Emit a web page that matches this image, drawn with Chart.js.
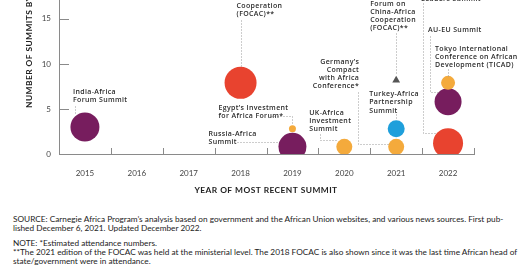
<!DOCTYPE html>
<html>
<head>
<meta charset="utf-8">
<script src="https://cdn.jsdelivr.net/npm/chart.js@4.4.0/dist/chart.umd.min.js"></script>
<style>
    html, body { margin: 0; padding: 0; background: #fff; width: 520px; height: 272px; overflow: hidden; }
    #wrap { position: relative; width: 520px; height: 200px; }
    .notes { position: absolute; left: 13px; top: 215px; font-family: Lato, sans-serif; font-size: 8.25px; line-height: 9px; color: #222; white-space: nowrap; }
    .notes p { margin: 0 0 6px 0; }
</style>
</head>
<body>
<div id="wrap"><canvas id="summitChart" width="520" height="200"></canvas></div>
<div class="notes">
    <p>SOURCE: Carnegie Africa Program’s analysis based on government and the African Union websites, and various news sources. First pub-<br>lished December 6, 2021. Updated December 2022.</p>
    <p>NOTE: *Estimated attendance numbers.<br>**The 2021 edition of the FOCAC was held at the ministerial level. The 2018 FOCAC is also shown since it was the last time African head of<br>state/government were in attendance.</p>
</div>
<script>
// Categories (x axis)
const years = ['2015', '2016', '2017', '2018', '2019', '2020', '2021', '2022'];

// Summits (bubbles)
const summitNames = [
    'India-Africa Forum Summit',
    'Forum on China-Africa Cooperation (FOCAC)**',
    "Egypt's Investment for Africa Forum*",
    'Russia-Africa Summit',
    'UK-Africa Investment Summit',
    "Germany's Compact with Africa Conference*",
    'Turkey-Africa Partnership Summit',
    'U.S.-Africa Leaders Summit',
    'AU-EU Summit',
    'Tokyo International Conference on African Development (TICAD)'
];
const summitYears = ['2015', '2018', '2019', '2019', '2020', '2021', '2021', '2022', '2022', '2022'];
const summitCounts = [3, 7.9, 2.8, 0.8, 0.8, 0.8, 2.8, 1.2, 5.8, 7.9];
const bubbleSize = [14.5, 16, 3.5, 14, 8, 8, 8.5, 15, 13.5, 7];

// 2021 FOCAC (ministerial level) shown as a triangle
const ministerialYears = ['2021'];
const ministerialCounts = [8.2];

// Y ticks
const yTicks = [0, 5, 10, 15];

const PURPLE = '#771d5e', RED = '#e8432f', ORANGE = '#f4aa3c', BLUE = '#1f9fdb';
const summitColors = [PURPLE, RED, ORANGE, PURPLE, ORANGE, ORANGE, BLUE, RED, PURPLE, ORANGE];
const axisColor = '#8a8a8a';

// Label text + placement relative to each bubble (dx, dy = first line centre; leader = dotted path)
const labelLayout = [
    { lines: ['India-Africa', 'Forum Summit'], dx: -12, dy: -35, leader: [[-10, -21], [-10, -14]] },
    { lines: ['Forum on', 'China-Africa', 'Cooperation', '(FOCAC)**'], dx: -4, dy: -93, leader: [[0, -63], [0, -16]] },
    { lines: ["Egypt’s Investment", 'for Africa Forum*'], dx: -74, dy: -21, leader: [[-21, -13], [0, -13], [0, -4]] },
    { lines: ['Russia-Africa', 'Summit'], dx: -84, dy: -13, leader: [[-55, -5], [-14, -5]] },
    { lines: ['UK-Africa', 'Investment', 'Summit'], dx: -35, dy: -34, leader: [[-24, -13], [-24, -7], [-8, -7]] },
    { lines: ['Germany’s', 'Compact', 'with Africa', 'Conference*'], dx: -37, dy: -85, align: 'right', leader: [[-38, -55], [-38, -3], [-8, -3]] },
    { lines: ['Turkey-Africa', 'Partnership', 'Summit'], dx: -27, dy: -34.5, leader: [[0, -15], [0, -9]] },
    { lines: ['U.S.-Africa', 'Leaders Summit'], dx: -27, dy: -152, leader: [[-25, -140], [-25, -10], [-11, -10]] },
    { lines: ['AU-EU Summit'], dx: -20, dy: -72, leader: [[-18, -66], [-18, -10], [-10, -10]] },
    { lines: ['Tokyo International', 'Conference on African', 'Development (TICAD)'], dx: -13, dy: -34, leader: [[0, -14], [0, -7]] }
];
const ministerialLayout = { lines: ['Forum on', 'China-Africa', 'Cooperation', '(FOCAC)**'], dx: -26, dy: -76.5, leader: [[0, -47], [0, -7]] };

function drawLabel(ctx, px, py, spec) {
    ctx.save();
    ctx.strokeStyle = '#9a9a9a';
    ctx.lineWidth = 1;
    ctx.setLineDash([1, 2]);
    ctx.beginPath();
    spec.leader.forEach((p, i) => {
        const x = Math.round(px + p[0]) + 0.5, y = Math.round(py + p[1]) + 0.5;
        if (i === 0) ctx.moveTo(x, y); else ctx.lineTo(x, y);
    });
    ctx.stroke();
    ctx.setLineDash([]);
    ctx.fillStyle = '#2b2b2b';
    ctx.font = '600 7px "Open Sans"';
    ctx.letterSpacing = '0.35px';
    ctx.textAlign = spec.align || 'left';
    ctx.textBaseline = 'middle';
    spec.lines.forEach((line, i) => {
        ctx.fillText(line, px + spec.dx, py + spec.dy + i * 8.2);
    });
    ctx.restore();
}

const decorPlugin = {
    id: 'decor',
    afterDatasetsDraw(chart) {
        const ctx = chart.ctx;
        const area = chart.chartArea;
        const xs = chart.scales.x, ys = chart.scales.y;
        ctx.save();
        ctx.strokeStyle = axisColor;
        ctx.lineWidth = 1;
        ctx.beginPath();
        // y tick marks point into the plot
        yTicks.forEach(v => {
            if (v === 0) return;
            const y = Math.round(ys.getPixelForValue(v)) + 0.5;
            ctx.moveTo(area.left, y);
            ctx.lineTo(area.left + 10, y);
        });
        // x tick marks at category boundaries
        years.forEach((y, i) => {
            const x = Math.round(xs.getPixelForValue(i + 0.5)) + 0.5;
            ctx.moveTo(x, area.bottom);
            ctx.lineTo(x, area.bottom - 6);
        });
        ctx.stroke();

        // axis titles
        ctx.fillStyle = '#222';
        ctx.font = 'bold 8.4px Lato';
        ctx.letterSpacing = '0.45px';
        ctx.textBaseline = 'middle';
        ctx.textAlign = 'center';
        ctx.fillText('YEAR OF MOST RECENT SUMMIT', 266, 190);
        ctx.save();
        ctx.translate(29, 108);
        ctx.rotate(-Math.PI / 2);
        ctx.textAlign = 'left';
        ctx.fillText('NUMBER OF SUMMITS BY PARTNER', 0, 0);
        ctx.restore();
        ctx.restore();

        const meta = chart.getDatasetMeta(0);
        meta.data.forEach((el, i) => drawLabel(ctx, el.x, el.y, labelLayout[i]));
        const tri = chart.getDatasetMeta(1).data[0];
        drawLabel(ctx, tri.x, tri.y, ministerialLayout);
    }
};

const ctx = document.getElementById('summitChart').getContext('2d');
const summitChart = new Chart(ctx, {
    type: 'bubble',
    data: {
        labels: years,
        datasets: [
            {
                label: 'Summits',
                data: summitYears.map((yr, i) => ({ x: yr, y: summitCounts[i], r: bubbleSize[i] })),
                backgroundColor: summitColors,
                borderWidth: 0
            },
            {
                label: 'FOCAC 2021 (ministerial)',
                data: ministerialYears.map((yr, i) => ({ x: yr, y: ministerialCounts[i], r: 4.5 })),
                backgroundColor: '#555',
                borderWidth: 0,
                pointStyle: 'triangle'
            }
        ]
    },
    options: {
        responsive: false,
        animation: false,
        events: [],
        layout: { autoPadding: false, padding: { top: 0, right: 46, bottom: 0, left: 0 } },
        plugins: {
            legend: { display: false },
            tooltip: { enabled: false }
        },
        scales: {
            x: {
                type: 'category',
                labels: years,
                offset: true,
                grid: { display: false, offset: true, drawTicks: false },
                border: { display: true, color: axisColor, width: 1 },
                ticks: { color: '#444', font: { family: 'Lato', size: 8 }, padding: 15, maxRotation: 0 },
                afterFit(scale) {
                    scale.height = 46;
                    scale.paddingLeft = 0;
                    scale.paddingRight = 0;
                }
            },
            y: {
                min: 0,
                max: 17.1,
                afterBuildTicks(scale) { scale.ticks = yTicks.map(v => ({ value: v })); },
                grid: { display: false, drawTicks: false },
                border: { display: true, color: axisColor, width: 1 },
                ticks: { color: '#444', font: { family: 'Lato', size: 8 }, padding: 8 },
                afterFit(scale) {
                    scale.width = 59;
                    scale.paddingTop = 0;
                    scale.paddingBottom = 0;
                }
            }
        }
    },
    plugins: [decorPlugin]
});
</script>
</body>
</html>
